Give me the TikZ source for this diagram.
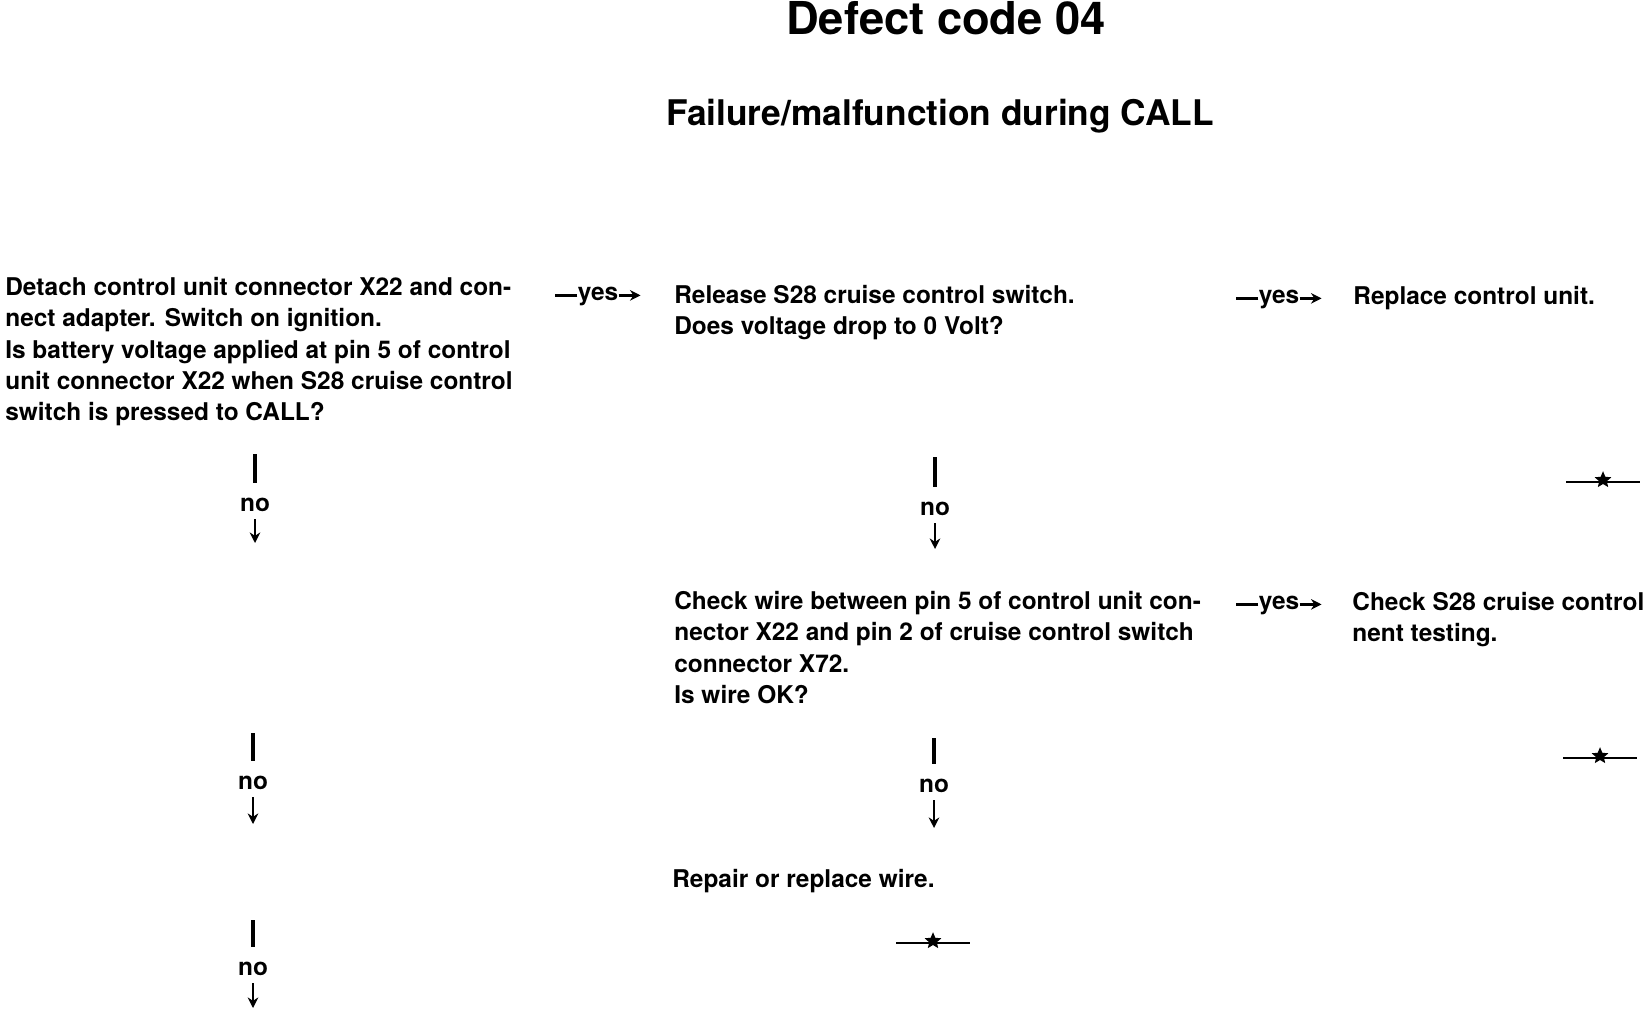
\documentclass[tikz,border=0pt]{standalone}
\usepackage{fontspec}
\setmainfont{TeX Gyre Heros}
\usepackage{tikz}
\usetikzlibrary{arrows.meta, positioning, shapes.geometric, calc}

\begin{document}
\begin{tikzpicture}[x=0.02cm, y=-0.02cm,
    flowtext/.style={anchor=north west, inner sep=0pt, align=left, font=\bfseries\fontsize{13.9}{17.85}\selectfont},
    answer/.style={inner sep=0pt, font=\bfseries\fontsize{13.9}{17.85}\selectfont},
    bar/.style={line width=2pt, shorten >=0.3cm},
    link/.style={line width=1.5pt},
    downlink/.style={line width=1.5pt, shorten <=0.14cm, -{Stealth[length=6pt, width=6pt]}},
    endmark/.style={star, star points=5, star point ratio=2.2, fill=black, inner sep=0pt, minimum size=10pt}]

    % page frame
    \useasboundingbox (0,0) rectangle (1648,1010);
    \fill[white] (0,0) rectangle (1648,1010);

    % Headings
    \node[anchor=base, font=\bfseries\fontsize{25.8}{30}\selectfont] (title) at (946,35) {Defect code 04};
    \node[anchor=base, font=\bfseries\fontsize{20.1}{24}\selectfont] (subtitle) at (940,126) {Failure/malfunction during CALL};

    % Steps
    \node[flowtext] (q1) at (5,277) {Detach control unit connector X22 and con-\\nect adapter. Switch on ignition.\\Is battery voltage applied at pin 5 of control\\unit connector X22 when S28 cruise control\\switch is pressed to CALL?};
    \node[flowtext] (q2) at (674,285) {Release S28 cruise control switch.\\Does voltage drop to 0 Volt?};
    \node[flowtext] (r1) at (1353,286) {Replace control unit.};
    \node[flowtext] (q3) at (674,591) {Check wire between pin 5 of control unit con-\\nector X22 and pin 2 of cruise control switch\\connector X72.\\Is wire OK?};
    \node[flowtext] (r2) at (1352,592) {Check S28 cruise control\\nent testing.};
    \node[flowtext] (r3) at (672,869) {Repair or replace wire.};

    % yes branches
    \node[answer, anchor=base] (y1) at (598,300) {yes};
    \draw[link] (y1.mid west) -- ++(-22,0);
    \draw[link, -{Stealth[length=6pt, width=6pt]}] (y1.mid east) -- ++(22,0);
    \node[answer, anchor=base] (y2) at (1279,303) {yes};
    \draw[link] (y2.mid west) -- ++(-22,0);
    \draw[link, -{Stealth[length=6pt, width=6pt]}] (y2.mid east) -- ++(22,0);
    \node[answer, anchor=base] (y3) at (1279,609) {yes};
    \draw[link] (y3.mid west) -- ++(-22,0);
    \draw[link, -{Stealth[length=6pt, width=6pt]}] (y3.mid east) -- ++(22,0);

    % no branches
    \coordinate (n1t) at (255,454);
    \node[answer] (n1) at (255,505) {no};
    \coordinate (n1b) at (255,543);
    \draw[bar] (n1t) -- (n1);
    \draw[downlink] (n1) -- (n1b);

    \coordinate (n2t) at (935,457);
    \node[answer] (n2) at (935,509) {no};
    \coordinate (n2b) at (935,549);
    \draw[bar] (n2t) -- (n2);
    \draw[downlink] (n2) -- (n2b);

    \coordinate (n3t) at (253,733);
    \node[answer] (n3) at (253,783) {no};
    \coordinate (n3b) at (253,824);
    \draw[bar] (n3t) -- (n3);
    \draw[downlink] (n3) -- (n3b);

    \coordinate (n4t) at (934,738);
    \node[answer] (n4) at (934,786) {no};
    \coordinate (n4b) at (934,828);
    \draw[bar] (n4t) -- (n4);
    \draw[downlink] (n4) -- (n4b);

    \coordinate (n5t) at (253,920);
    \node[answer] (n5) at (253,969) {no};
    \coordinate (n5b) at (253,1008);
    \draw[bar] (n5t) -- (n5);
    \draw[downlink] (n5) -- (n5b);

    % end marks
    \node[endmark] (e1) at (1603,480) {};
    \draw[link] ($(e1)+(-37,2)$) -- ($(e1)+(37,2)$);
    \node[endmark] (e2) at (1600,756) {};
    \draw[link] ($(e2)+(-37,2)$) -- ($(e2)+(37,2)$);
    \node[endmark] (e3) at (933,941) {};
    \draw[link] ($(e3)+(-37,2)$) -- ($(e3)+(37,2)$);
\end{tikzpicture}
\end{document}
